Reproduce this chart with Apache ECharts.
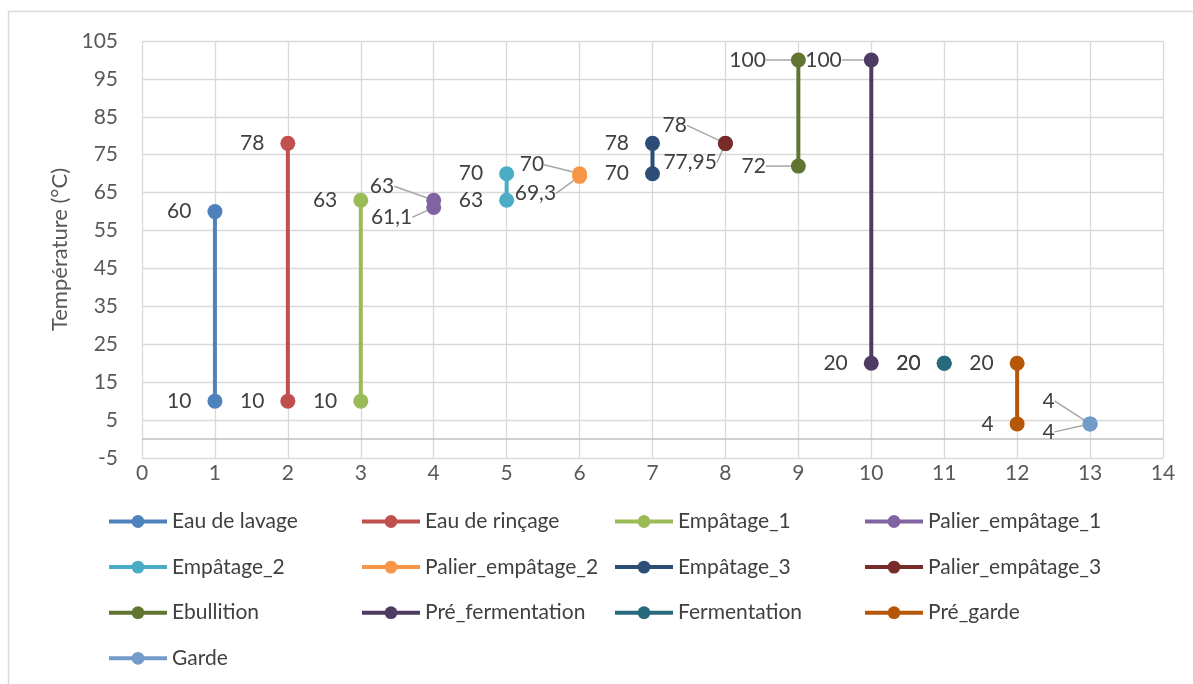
<!DOCTYPE html>
<html><head><meta charset="utf-8">
<script src="https://cdn.jsdelivr.net/npm/echarts@6/dist/echarts.min.js"></script>
<style>html,body{margin:0;padding:0;background:#fff;}#c{width:1193px;height:684px;}</style>
</head><body><div id="c"></div>
<script>
const seriesNames = ['Eau de lavage','Eau de rinçage','Empâtage_1','Palier_empâtage_1','Empâtage_2','Palier_empâtage_2','Empâtage_3','Palier_empâtage_3','Ebullition','Pré_fermentation','Fermentation','Pré_garde','Garde'];
const stepX = [1,2,3,4,5,6,7,8,9,10,11,12,13];
const highValues = [60,78,63,63,70,70,78,78,100,100,20,20,4];
const lowValues = [10,10,10,61.1,63,69.3,70,77.95,72,20,20,4,4];
const colors = ['#4F81BD','#C0504D','#9BBB59','#8064A2','#4BACC6','#F79646','#2C4D75','#772C2A','#5F7530','#4D3B62','#276A7C','#B65708','#729ACA'];
const yTicks = [-5,5,15,25,35,45,55,65,75,85,95,105];
const xTicks = [0,1,2,3,4,5,6,7,8,9,10,11,12,13,14];

// label displacement (style): [series][point] -> {dx,dy}, point 0 = high, 1 = low
const labelShift = {
  3: [{dx:-16, dy:-14}, {dx:2, dy:10}],
  5: [{dx:-12, dy:-9}, {dx:0, dy:17}],
  7: [{dx:-15, dy:-18}, {dx:15, dy:19}],
  8: [{dx:-9, dy:0}, {dx:-9, dy:0}],
  9: [{dx:-6, dy:0}, null],
  12: [{dx:-12, dy:-23}, {dx:-12, dy:8}]
};

const FONT = 'Lato, "Open Sans", sans-serif';
const fmt = v => String(v).replace('.', ',');

const series = seriesNames.map((name, i) => {
  const sh = labelShift[i] || [null, null];
  const s = {
    name, type: 'line',
    data: [highValues[i], lowValues[i]].map((v, k) => ({
      value: [stepX[i], v],
      labelLine: {show: !!sh[k]}
    })),
    symbol: 'circle', symbolSize: 15,
    itemStyle: {color: colors[i]},
    lineStyle: {color: colors[i], width: 4},
    label: {show: true, position: 'left', distance: 16, fontSize: 21, fontFamily: FONT, color: '#404040',
      formatter: p => fmt(p.value[1])},
    labelLine: {show: true, lineStyle: {color: '#a6a6a6', width: 1.5}},
    labelLayout: params => (sh[params.dataIndex] || {}),
    z: 3
  };
  if (i === 0) {
    s.markLine = {silent: true, symbol: 'none', label: {show: false},
      lineStyle: {color: '#bfbfbf', width: 1.5, type: 'solid'},
      data: [{yAxis: 0}], z: 1};
  }
  return s;
});

const cols = [
  [0,4,8,12],[1,5,9],[2,6,10],[3,7,11]
];
const colLeft = [107, 360, 613, 863];
const legends = cols.map((c, k) => ({
  data: c.map(j => seriesNames[j]),
  orient: 'vertical', left: colLeft[k], top: 511, padding: 0,
  itemWidth: 58, itemHeight: 16, itemGap: 24.6,
  lineStyle: {width: 4},
  textStyle: {fontSize: 21, fontFamily: FONT, color: '#404040'},
  selectedMode: false
}));

const chart = echarts.init(document.getElementById('c'), null, {renderer: 'canvas'});
chart.setOption({
  animation: false,
  backgroundColor: '#fff',
  color: colors,
  graphic: [{type: 'rect', shape: {x: 8.5, y: 11.5, width: 1300, height: 800},
    style: {fill: 'none', stroke: '#d9d9d9', lineWidth: 1.5}, silent: true}],
  legend: legends,
  grid: {left: 142, right: 30, top: 41, bottom: 226, containLabel: false},
  xAxis: {type: 'value', min: xTicks[0], max: xTicks[xTicks.length-1], interval: 1,
    axisLine: {show: false, onZero: false}, axisTick: {show: false},
    axisLabel: {fontSize: 21, fontFamily: FONT, color: '#595959', margin: 5},
    splitLine: {show: true, lineStyle: {color: '#d9d9d9', width: 1.3}}},
  yAxis: {type: 'value', min: yTicks[0], max: yTicks[yTicks.length-1], interval: 10,
    name: 'Température (°C)', nameLocation: 'middle', nameGap: 70, nameRotate: 90,
    nameTextStyle: {fontSize: 22, fontFamily: FONT, color: '#595959'},
    axisLine: {show: false}, axisTick: {show: false},
    axisLabel: {fontSize: 21, fontFamily: FONT, color: '#595959', margin: 24},
    splitLine: {show: true, lineStyle: {color: '#d9d9d9', width: 1.3}}},
  series
});
</script></body></html>
